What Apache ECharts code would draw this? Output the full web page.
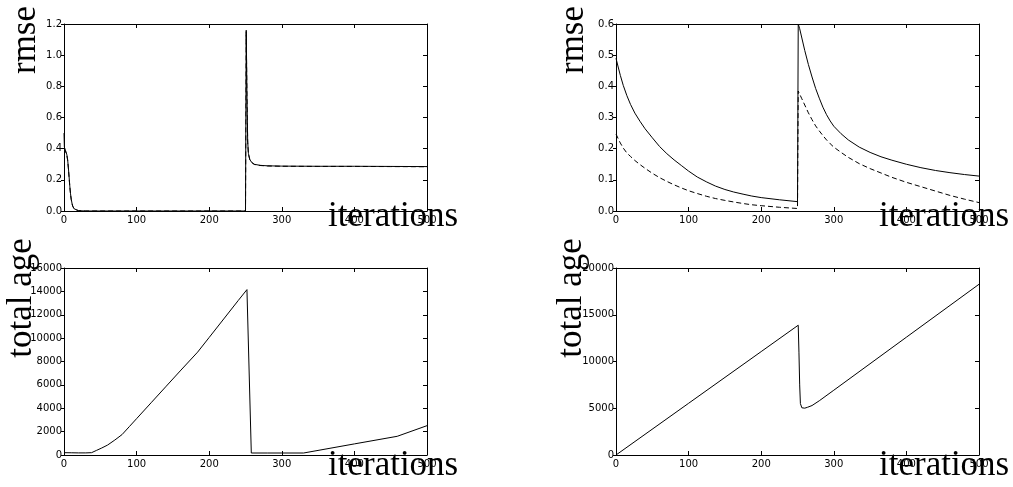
<!DOCTYPE html>
<html>
<head>
<meta charset="utf-8">
<script src="https://cdn.jsdelivr.net/npm/echarts@6/dist/echarts.min.js"></script>
<style>html,body{margin:0;padding:0;background:#fff;}#c{width:1013px;height:487px;}</style>
</head>
<body>
<div id="c"></div>
<script>
// ---- data ----
var xTicks = [0, 100, 200, 300, 400, 500];

// top-left: rmse
var tlIter   = [0, 0.5, 2, 4, 5, 6, 7, 8, 9, 10, 11, 12, 14, 16, 20, 30, 250, 251, 252, 253, 254, 256, 258, 262, 270, 280, 300, 350, 400, 450, 500];
var tlSolid  = [0.50, 0.41, 0.39, 0.36, 0.33, 0.28, 0.22, 0.16, 0.11, 0.075, 0.05, 0.032, 0.014, 0.006, 0.002, 0, 0, 1.16, 0.75, 0.45, 0.37, 0.33, 0.315, 0.30, 0.293, 0.29, 0.288, 0.287, 0.287, 0.286, 0.285];
var tlDashed = [0.40, 0.40, 0.385, 0.355, 0.325, 0.275, 0.215, 0.155, 0.105, 0.072, 0.048, 0.030, 0.013, 0.005, 0.002, 0, 0, 1.15, 0.74, 0.44, 0.365, 0.328, 0.313, 0.299, 0.292, 0.289, 0.287, 0.286, 0.286, 0.285, 0.284];

// top-right: rmse
var trIter   = [0, 3, 6, 10, 15, 20, 26, 33, 40, 50, 60, 70, 80, 90, 100, 112, 125, 137, 150, 162, 175, 187, 200, 225, 250,
                251, 253, 256, 260, 265, 270, 275, 280, 285, 290, 295, 300, 310, 320, 335, 350, 365, 380, 400, 420, 440, 460, 480, 500];
var trSolid  = [0.49, 0.462, 0.435, 0.403, 0.37, 0.342, 0.314, 0.288, 0.264, 0.235, 0.207, 0.184, 0.164, 0.146, 0.128, 0.109, 0.093, 0.080, 0.069, 0.061, 0.054, 0.048, 0.043, 0.036, 0.030,
                0.60, 0.585, 0.555, 0.515, 0.47, 0.43, 0.393, 0.362, 0.333, 0.309, 0.289, 0.272, 0.248, 0.228, 0.205, 0.188, 0.174, 0.163, 0.150, 0.139, 0.130, 0.123, 0.117, 0.112];
var trDashed = [0.247, 0.232, 0.218, 0.202, 0.186, 0.175, 0.162, 0.149, 0.137, 0.121, 0.107, 0.095, 0.084, 0.074, 0.065, 0.056, 0.047, 0.040, 0.034, 0.029, 0.024, 0.020, 0.017, 0.012, 0.008,
                0.385, 0.375, 0.36, 0.34, 0.315, 0.293, 0.273, 0.257, 0.242, 0.228, 0.216, 0.205, 0.188, 0.172, 0.152, 0.136, 0.122, 0.108, 0.092, 0.078, 0.064, 0.050, 0.038, 0.027];

// bottom-left: total age
var blIter = [0, 10, 20, 30, 38, 45, 52, 60, 70, 80, 90, 100, 120, 140, 160, 184, 200, 220, 240, 252, 258, 280, 300, 330, 400, 459, 500];
var blAge  = [200, 190, 180, 180, 200, 400, 600, 850, 1280, 1750, 2430, 3110, 4470, 5830, 7190, 8800, 10060, 11640, 13220, 14150, 170, 170, 170, 170, 950, 1600, 2510];

// bottom-right: total age
var brIter = [0, 100, 200, 251, 252, 253, 254, 256, 258, 260, 264, 270, 280, 300, 400, 500];
var brAge  = [0, 5530, 11060, 13880, 11000, 7500, 5500, 5050, 4990, 5010, 5110, 5290, 5800, 6930, 12600, 18260];

// ---- build ----
function zip(xs, ys) { var o = []; for (var i = 0; i < xs.length; i++) o.push([xs[i], ys[i]]); return o; }

var grids = [
  {left: 64, top: 24, width: 363, height: 187},
  {left: 616, top: 24, width: 363, height: 187},
  {left: 64, top: 268, width: 363, height: 187},
  {left: 616, top: 268, width: 363, height: 187}
];
var yRanges = [
  {min: 0, max: 1.2, interval: 0.2, fmt: function (v) { return v.toFixed(1); }},
  {min: 0, max: 0.6, interval: 0.1, fmt: function (v) { return v.toFixed(1); }},
  {min: 0, max: 16000, interval: 2000, fmt: function (v) { return String(Math.round(v)); }},
  {min: 0, max: 20000, interval: 5000, fmt: function (v) { return String(Math.round(v)); }}
];
var tickFont = {fontFamily: 'DejaVu Sans', fontSize: 10, color: '#000'};
var axLine = {show: true, onZero: false, lineStyle: {color: '#000', width: 1}};

var xAxes = [], yAxes = [];
grids.forEach(function (g, i) {
  xAxes.push({type: 'value', gridIndex: i, position: 'bottom', min: 0, max: 500, interval: 100,
    axisLine: axLine, splitLine: {show: false},
    axisTick: {show: true, inside: true, length: 4, lineStyle: {color: '#000'}},
    axisLabel: Object.assign({margin: 4, formatter: function (v) { return xTicks.indexOf(v) >= 0 ? String(v) : ''; }}, tickFont)});
  xAxes.push({type: 'value', gridIndex: i, position: 'top', min: 0, max: 500, interval: 100,
    axisLine: axLine, splitLine: {show: false},
    axisTick: {show: true, inside: true, length: 4, lineStyle: {color: '#000'}},
    axisLabel: {show: false}});
  var r = yRanges[i];
  yAxes.push({type: 'value', gridIndex: i, position: 'left', min: r.min, max: r.max, interval: r.interval,
    axisLine: axLine, splitLine: {show: false},
    axisTick: {show: true, inside: false, length: 3, lineStyle: {color: '#000'}},
    axisLabel: Object.assign({margin: 2, formatter: r.fmt}, tickFont)});
  yAxes.push({type: 'value', gridIndex: i, position: 'right', min: r.min, max: r.max, interval: r.interval,
    axisLine: axLine, splitLine: {show: false},
    axisTick: {show: true, inside: true, length: 4, lineStyle: {color: '#000'}},
    axisLabel: {show: false}});
});

function line(idx, xs, ys, dashed) {
  return {type: 'line', xAxisIndex: idx * 2, yAxisIndex: idx * 2, data: zip(xs, ys),
    showSymbol: false, symbol: 'none', clip: true, silent: true,
    lineStyle: {color: '#000', width: 1, type: dashed ? [5, 3] : 'solid'}};
}

var series = [
  line(0, tlIter, tlSolid, false),
  line(0, tlIter, tlDashed, true),
  line(1, trIter, trSolid, false),
  line(1, trIter, trDashed, true),
  line(2, blIter, blAge, false),
  line(3, brIter, brAge, false)
];

var bigFont = '35px "Liberation Serif"';
function vlabel(text, x, y) {
  return {type: 'text', x: x, y: y, rotation: Math.PI / 2, z: 100,
    style: {text: text, font: bigFont, fill: '#000', align: 'center', verticalAlign: 'middle'}};
}
function hlabel(text, x, y) {
  return {type: 'text', x: x, y: y, z: 100,
    style: {text: text, font: bigFont, fill: '#000', align: 'left', verticalAlign: 'middle'}};
}

var chart = echarts.init(document.getElementById('c'), null, {renderer: 'canvas'});
chart.setOption({
  animation: false,
  backgroundColor: '#fff',
  grid: grids,
  xAxis: xAxes,
  yAxis: yAxes,
  series: series,
  graphic: [
    vlabel('rmse', 26, 40),
    vlabel('rmse', 574, 40),
    vlabel('total age', 22, 298),
    vlabel('total age', 572, 298),
    hlabel('iterations', 328, 217),
    hlabel('iterations', 879, 217),
    hlabel('iterations', 328, 466),
    hlabel('iterations', 879, 466)
  ]
});
</script>
</body>
</html>
